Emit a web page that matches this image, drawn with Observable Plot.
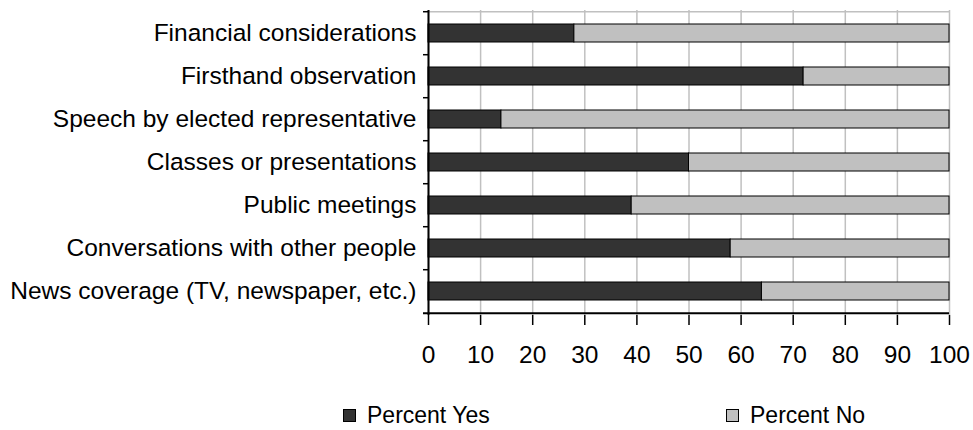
<!DOCTYPE html>
<html>
<head>
<meta charset="utf-8">
<script src="https://cdn.jsdelivr.net/npm/d3@7"></script>
<script src="https://cdn.jsdelivr.net/npm/@observablehq/plot@0.6"></script>
<style>
  html, body { margin: 0; padding: 0; background: #fff; }
  #wrap { position: relative; width: 973px; height: 430px; font-family: "Liberation Sans", Arial, sans-serif; }
  .leg { position: absolute; top: 402px; height: 26px; display: flex; align-items: center; font-size: 23px; color: #000; line-height: 26px; }
  .sw { width: 11px; height: 11px; border: 1px solid #000; margin-right: 11px; }
</style>
</head>
<body>
<div id="wrap"></div>
<script>
const categories = [
  "Financial considerations",
  "Firsthand observation",
  "Speech by elected representative",
  "Classes or presentations",
  "Public meetings",
  "Conversations with other people",
  "News coverage (TV, newspaper, etc.)"
];
const percentYes = [28, 72, 14, 50, 39, 58, 64];
const percentNo = [72, 28, 86, 50, 61, 42, 36];
const seriesNames = ["Percent Yes", "Percent No"];
const seriesColors = ["#333333", "#c0c0c0"];
const xTicks = [0, 10, 20, 30, 40, 50, 60, 70, 80, 90, 100];

const rows = [];
categories.forEach((c, i) => {
  rows.push({cat: c, series: seriesNames[0], value: percentYes[i]});
  rows.push({cat: c, series: seriesNames[1], value: percentNo[i]});
});

const W = 973, H = 392, mT = 10, mB = 77, mL = 428, mR = 24;
const step = (H - mT - mB) / categories.length;

const chart = Plot.plot({
  width: W, height: H,
  marginTop: mT, marginBottom: mB, marginLeft: mL, marginRight: mR,
  style: {fontFamily: "'Liberation Sans', Arial, sans-serif", fontSize: "24px", color: "#000", background: "#fff"},
  x: {domain: [0, 100], ticks: xTicks, label: null},
  y: {domain: categories, paddingInner: 0.57, paddingOuter: 0.285, label: null},
  color: {domain: seriesNames, range: seriesColors},
  marks: [
    Plot.gridX(xTicks, {stroke: "#c0c0c0", strokeOpacity: 1, strokeWidth: 1.5}),
    Plot.ruleY([categories[0]], {dy: -step / 2, stroke: "#c0c0c0", strokeWidth: 1.5}),
    Plot.barX(rows, Plot.stackX({y: "cat", x: "value", fill: "series", stroke: "#000", strokeWidth: 1, order: null})),
    Plot.ruleY(categories, {y: d => d, dy: -step / 2, x1: 0, x2: 0, insetLeft: -5, stroke: "#000", strokeWidth: 1.5}),
    Plot.ruleY([categories[categories.length - 1]], {dy: step / 2, insetLeft: -5, stroke: "#000", strokeWidth: 2}),
    Plot.ruleX([0], {stroke: "#000", strokeWidth: 2}),
    Plot.axisX({ticks: xTicks, tickSize: 10, tickPadding: 20, tickFormat: d => String(d), label: null, strokeWidth: 1.5, fontSize: 24.5}),
    Plot.axisY({tickSize: 0, tickPadding: 12, label: null, fontSize: 24.5})
  ]
});

const wrap = document.getElementById("wrap");
wrap.appendChild(chart);
const legendLeft = [343, 726];
seriesNames.forEach((name, i) => {
  const d = document.createElement("div");
  d.className = "leg";
  d.style.left = legendLeft[i] + "px";
  const sw = document.createElement("span");
  sw.className = "sw";
  sw.style.background = seriesColors[i];
  d.appendChild(sw);
  const t = document.createElement("span");
  t.textContent = name;
  d.appendChild(t);
  wrap.appendChild(d);
});
</script>
</body>
</html>
